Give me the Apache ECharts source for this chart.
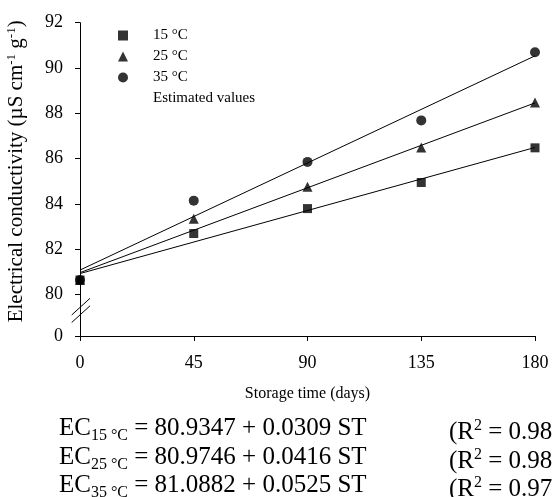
<!DOCTYPE html>
<html><head><meta charset="utf-8">
<script src="https://cdn.jsdelivr.net/npm/echarts@6/dist/echarts.min.js"></script>
<style>html,body{margin:0;padding:0;background:#fff}#c{width:552px;height:497px}</style>
</head><body><div id="c"></div>
<script>
const days = [0, 45, 90, 135, 180];
const ec15 = [80.65, 82.70, 83.80, 84.95, 86.48];
const ec25 = [80.65, 83.35, 84.76, 86.50, 88.48];
const ec35 = [80.65, 84.15, 85.86, 87.69, 90.70];
const estDays = [0, 180];
const est15 = [80.9347, 86.4967];
const est25 = [80.9746, 88.4626];
const est35 = [81.0882, 90.5382];
const yTicks = [78.18, 80, 82, 84, 86, 88, 90, 92];
const xTicks = [0, 45, 90, 135, 180];
const eqTemps = ['15 °C', '25 °C', '35 °C'];
const eqIntercepts = ['80.9347', '80.9746', '81.0882'];
const eqSlopes = ['0.0309', '0.0416', '0.0525'];
const eqR2 = ['0.98', '0.98', '0.97'];

const F = 'Liberation Serif';
const pair = (xs, ys) => xs.map((x, i) => [x, ys[i]]);
const chart = echarts.init(document.getElementById('c'), null, {renderer: 'canvas'});

const eqGraphics = [];
eqTemps.forEach((t, i) => {
  const y = 416 + i * 28.5;
  eqGraphics.push({
    type: 'text', left: 59, top: y,
    style: {
      text: '{n|EC}{s|' + t + '}{n| = ' + eqIntercepts[i] + ' + ' + eqSlopes[i] + ' ST}',
      rich: {
        n: {fontFamily: F, fontSize: 25, fill: '#000', lineHeight: 29, verticalAlign: 'bottom'},
        s: {fontFamily: F, fontSize: 16, fill: '#000', lineHeight: 29, verticalAlign: 'bottom', padding: [0, 0, -3, 0]}
      }
    }
  });
  eqGraphics.push({
    type: 'text', left: 449, top: y,
    style: {
      text: '{n|(R}{p|2}{n| = ' + eqR2[i] + ')}',
      rich: {
        n: {fontFamily: F, fontSize: 25, fill: '#000', lineHeight: 29, verticalAlign: 'bottom'},
        p: {fontFamily: F, fontSize: 16, fill: '#000', lineHeight: 29, verticalAlign: 'top', padding: [2, 0, 0, 0]}
      }
    }
  });
});

const symStyle = {color: '#000'};
chart.setOption({
  animation: false,
  grid: {left: 80, right: 17, top: 22.7, bottom: 161, containLabel: false, outerBoundsMode: 'none'},
  legend: {
    orient: 'vertical', left: 113, top: 22,
    itemWidth: 10, itemHeight: 10, itemGap: 4,
    textStyle: {fontFamily: F, fontSize: 15, color: '#000', padding: [0, 0, 0, 20], lineHeight: 17},
    data: [
      {name: '15 °C', icon: 'rect'},
      {name: '25 °C', icon: 'triangle'},
      {name: '35 °C', icon: 'circle'},
      {name: 'Estimated values', icon: 'none'}
    ]
  },
  xAxis: {
    type: 'value', min: 0, max: 180, interval: 45,
    name: 'Storage time (days)', nameLocation: 'middle', nameGap: 50,
    nameTextStyle: {fontFamily: F, fontSize: 16, color: '#000'},
    axisLine: {lineStyle: {color: '#000', width: 1}},
    axisTick: {show: true, inside: false, length: 5, lineStyle: {color: '#000'}},
    axisLabel: {fontFamily: F, fontSize: 18, color: '#000', margin: 18},
    splitLine: {show: false}
  },
  yAxis: {
    type: 'value', min: 78.18, max: 92,
    name: 'Electrical conductivity (µS cm{sp|-1} g{sp|-1})',
    nameLocation: 'middle', nameGap: 52, nameRotate: 90,
    nameTextStyle: {fontFamily: F, fontSize: 21, color: '#000', padding: [0, 0, 0, 16],
      rich: {sp: {fontFamily: F, fontSize: 13, color: '#000', verticalAlign: 'top', padding: [0, 0, 10, 0]}}},
    axisLine: {show: true, lineStyle: {color: '#000', width: 1}},
    axisTick: {show: true, length: 5, lineStyle: {color: '#000'}, customValues: yTicks},
    axisLabel: {fontFamily: F, fontSize: 18, color: '#000', margin: 17, customValues: yTicks,
      formatter: v => (v < 79 ? '0' : String(Math.round(v)))},
    splitLine: {show: false}
  },
  graphic: [
    {type: 'line', shape: {x1: 71.7, y1: 315, x2: 90, y2: 298.3}, style: {stroke: '#000', lineWidth: 1}},
    {type: 'line', shape: {x1: 71.7, y1: 322.5, x2: 90, y2: 305.8}, style: {stroke: '#000', lineWidth: 1}}
  ].concat(eqGraphics),
  series: [
    {name: 'Estimated values', type: 'line', data: pair(estDays, est15), showSymbol: false, lineStyle: {color: '#000', width: 1}, itemStyle: symStyle, z: 2},
    {name: 'Estimated values', type: 'line', data: pair(estDays, est25), showSymbol: false, lineStyle: {color: '#000', width: 1}, itemStyle: symStyle, z: 2},
    {name: 'Estimated values', type: 'line', data: pair(estDays, est35), showSymbol: false, lineStyle: {color: '#000', width: 1}, itemStyle: symStyle, z: 2},
    {name: '15 °C', type: 'scatter', symbol: 'rect', symbolSize: 9, data: pair(days, ec15), itemStyle: symStyle, clip: false, z: 3},
    {name: '25 °C', type: 'scatter', symbol: 'triangle', symbolSize: 10, data: pair(days, ec25), itemStyle: symStyle, clip: false, z: 3},
    {name: '35 °C', type: 'scatter', symbol: 'circle', symbolSize: 10, data: pair(days, ec35), itemStyle: symStyle, clip: false, z: 3}
  ]
});
</script></body></html>
